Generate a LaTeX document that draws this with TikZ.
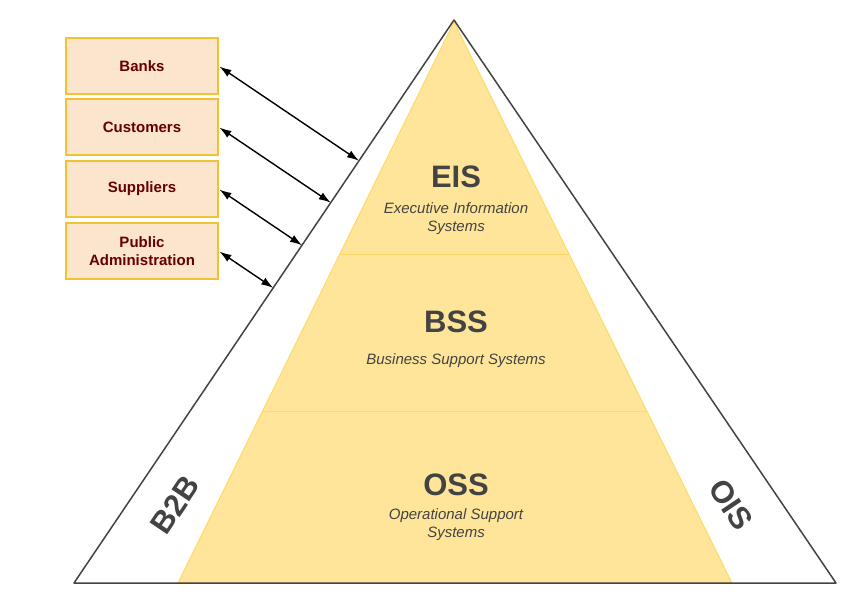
\documentclass[tikz,border=0pt]{standalone}
\usepackage{fontspec}
\setmainfont{Liberation Sans}
\usetikzlibrary{calc,arrows.meta}
\definecolor{boxfill}{HTML}{FCE5CD}
\definecolor{boxedge}{HTML}{F1C232}
\definecolor{boxtext}{HTML}{660000}
\definecolor{pyrfill}{HTML}{FFE599}
\definecolor{pyredge}{HTML}{FFD966}
\definecolor{ink}{HTML}{434343}
\tikzstyle{Party}=[rectangle, minimum width=152, minimum height=56, text width=140, align=center, fill=boxfill, draw=boxedge, line width=1.2, text=boxtext, font=\fontsize{15}{18}\selectfont\bfseries]
\tikzstyle{Level}=[text=ink, inner sep=0, font=\fontsize{31}{31}\selectfont\bfseries]
\tikzstyle{Caption}=[text=ink, inner sep=0, align=center, font=\fontsize{15}{18}\selectfont\itshape]
\tikzstyle{Link}=[{Latex[length=12pt,width=8pt]}-{Latex[length=12pt,width=8pt]}, line width=1.4, shorten <=1]

\begin{document}
\begin{tikzpicture}[x=1pt, y=-1pt]
    \useasboundingbox (0,0) rectangle (867,605);
    % outer triangle and pyramid corners
    \coordinate (top) at (454,20);
    \coordinate (left) at (74,583);
    \coordinate (right) at (836,583);
    \coordinate (ptop) at (454,22);
    \coordinate (pleft) at (178,583);
    \coordinate (pright) at (732,583);

    \fill[pyrfill] (ptop) -- (pleft) -- (pright) -- cycle;
    \draw[pyredge, line width=1] (ptop) -- (pleft) -- (pright) -- cycle;
    \draw[pyredge, line width=1] ($(ptop)!0.4153!(pleft)$) -- ($(ptop)!0.4153!(pright)$);
    \draw[pyredge, line width=1] ($(ptop)!0.6934!(pleft)$) -- ($(ptop)!0.6934!(pright)$);
    \draw[ink, line width=1.5, line join=round] (top) -- (left) -- (right) -- cycle;

    \path
    (456,177) node[Level] (eis) {EIS}
    (456,219) node[Caption] (eisc) {Executive Information\\Systems}
    (456,322) node[Level] (bss) {BSS}
    (456,361) node[Caption] (bssc) {Business Support Systems}
    (456,485) node[Level] (oss) {OSS}
    (456,525) node[Caption] (ossc) {Operational Support\\Systems};
    \path (175,505) node[Level, rotate=56] (b2b) {B2B}
    (731,505) node[Level, rotate=-56] (ois) {OIS};

    \path
    (142,66) node[Party] (banks) {Banks}
    (142,127) node[Party] (customers) {Customers}
    (142,189) node[Party] (suppliers) {Suppliers}
    (142,251) node[Party] (public) {Public\\Administration};

    \foreach \p in {banks,customers,suppliers,public} {
        \coordinate (\p-edge) at ($(top)!(\p.east)!(left)$);
        \draw[Link] (\p.east) -- (\p-edge);
    }
\end{tikzpicture}
\end{document}
